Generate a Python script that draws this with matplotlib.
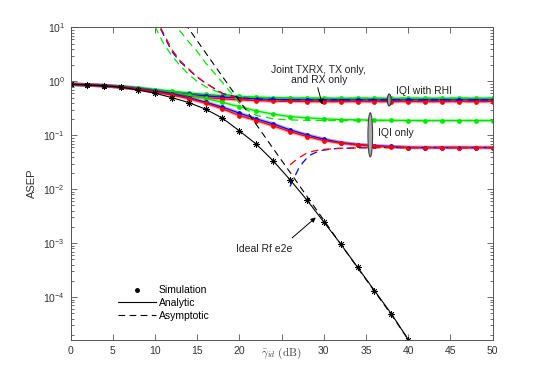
import matplotlib
matplotlib.use('Agg')
import matplotlib.pyplot as plt
from matplotlib.patches import Ellipse
from matplotlib.lines import Line2D

plt.rcParams['font.family'] = ['Liberation Sans', 'DejaVu Sans']
plt.rcParams['mathtext.fontset'] = 'cm'

# SNR grid (dB)
snr = list(range(0, 51, 2))
snr_ideal = list(range(0, 41, 2))

# Ideal RF end-to-end
ideal = [0.887, 0.861, 0.826, 0.781, 0.696, 0.604, 0.501, 0.405, 0.306, 0.208, 0.121,
         0.0687, 0.0337, 0.0150, 0.00631, 0.00247, 9.66e-4, 3.56e-4, 1.32e-4, 4.89e-5, 1.63e-5]
snr_ideal_asym = [12, 14, 16, 18, 20, 22, 24, 26, 28, 30, 32, 34, 36, 38, 40]
ideal_asym = [26, 9.5, 3.4, 1.23, 0.44, 0.159, 0.057, 0.0206, 0.0074, 0.00267,
              9.6e-4, 3.5e-4, 1.28e-4, 4.7e-5, 1.63e-5]

# IQI with RHI (red = joint TXRX, blue = TX only, green = RX only)
rhi_red = [0.887, 0.861, 0.826, 0.781, 0.718, 0.648, 0.587, 0.539, 0.501, 0.474, 0.454, 0.441,
           0.432, 0.426] + [0.423] * 12
rhi_blue = [0.887, 0.861, 0.836, 0.791, 0.736, 0.676, 0.620, 0.574, 0.539, 0.510, 0.489, 0.474,
            0.464, 0.458] + [0.454] * 12
rhi_green = [0.887, 0.861, 0.836, 0.801, 0.758, 0.705, 0.659, 0.612, 0.574, 0.546, 0.528, 0.512,
             0.501, 0.495] + [0.489] * 12

snr_rhi_asym = [10, 11, 12, 13, 14, 15, 16, 18, 20, 22, 25, 30, 50]
rhi_red_asym = [16, 7.9, 3.9, 2.4, 1.7, 1.22, 0.93, 0.59, 0.48, 0.443, 0.428, 0.423, 0.423]
rhi_blue_asym = [15, 7.4, 3.6, 2.3, 1.65, 1.2, 0.93, 0.6, 0.5, 0.472, 0.458, 0.454, 0.454]
rhi_green_asym = [10.5, 5.1, 3.0, 1.95, 1.35, 1.0, 0.80, 0.585, 0.525, 0.503, 0.492, 0.489, 0.489]

# IQI only
iqi_red = [0.887, 0.861, 0.826, 0.781, 0.718, 0.638, 0.562, 0.480, 0.395, 0.310, 0.233, 0.188,
           0.150, 0.117, 0.095, 0.0801, 0.0717, 0.0667, 0.0631, 0.0613] + [0.0594] * 6
iqi_blue = [0.887, 0.861, 0.836, 0.791, 0.736, 0.667, 0.587, 0.501, 0.412, 0.333, 0.258, 0.202,
            0.163, 0.126, 0.102, 0.0851, 0.0736, 0.0676, 0.0640, 0.0621] + [0.0594] * 6
iqi_green = [0.887, 0.861, 0.836, 0.801, 0.758, 0.696, 0.631, 0.555, 0.484, 0.408, 0.341, 0.284,
             0.247, 0.223, 0.211, 0.202, 0.196, 0.194, 0.191, 0.190] + [0.188] * 6

snr_iqi_red_asym = [26, 27, 28, 29, 30, 32, 35, 40, 50]
iqi_red_asym = [0.0284, 0.038, 0.047, 0.052, 0.055, 0.0575, 0.0588, 0.0594, 0.0594]
snr_iqi_blue_asym = [26, 26.5, 27, 27.5, 28, 28.5, 29.5, 31.5, 35, 40, 50]
iqi_blue_asym = [0.0113, 0.0165, 0.024, 0.031, 0.038, 0.044, 0.052, 0.057, 0.0592, 0.0594, 0.0594]
snr_iqi_green_asym = [12, 13, 14, 15, 16, 17, 18, 19, 20, 21, 22, 24, 26, 28, 30, 50]
iqi_green_asym = [13.5, 8.5, 5.4, 3.6, 2.2, 1.45, 0.95, 0.62, 0.40, 0.29, 0.235, 0.202, 0.193,
                  0.19, 0.188, 0.188]

RED, BLUE, GREEN = '#ff0000', '#0000ff', '#00e600'
DASH = (6, 4)

fig = plt.figure(figsize=(5.45, 3.82), dpi=100)
ax = fig.add_axes([70.5 / 545, 42 / 382, 422.2 / 545, 312.5 / 382])

# colored curves: simulation (light band + dots) and analytic (thin line)
for vals, col in [(rhi_green, GREEN), (rhi_blue, BLUE), (rhi_red, RED),
                  (iqi_green, GREEN), (iqi_blue, BLUE), (iqi_red, RED)]:
    ax.semilogy(snr, vals, color=col, lw=2.6, alpha=0.3, solid_capstyle='butt')
    ax.semilogy(snr, vals, color=col, lw=0, marker='o', ms=2.4, mec=col, mfc=col)
    ax.semilogy(snr, vals, color=col, lw=0.9)

# asymptotes
for x, vals, col in [(snr_rhi_asym, rhi_green_asym, GREEN), (snr_rhi_asym, rhi_blue_asym, BLUE),
                     (snr_rhi_asym, rhi_red_asym, RED), (snr_iqi_green_asym, iqi_green_asym, GREEN),
                     (snr_iqi_blue_asym, iqi_blue_asym, BLUE), (snr_iqi_red_asym, iqi_red_asym, RED)]:
    ax.semilogy(x, vals, color=col, lw=0.9, dashes=DASH)

# ideal case
ax.semilogy(snr_ideal, ideal, color='k', lw=0.8, marker=(8, 2, 0), ms=4.8, mew=0.6)
ax.semilogy(snr_ideal_asym, ideal_asym, color='k', lw=0.8, dashes=DASH)

ax.set_xlim(0, 50)
ax.set_ylim(1.6e-5, 10)
ax.set_xticks(range(0, 51, 5))
ax.set_xticklabels(['0', '5', '10', '15', '20', '', '30', '35', '40', '45', '50'])
ax.tick_params(which='both', direction='in', top=True, right=True, labelsize=7.5,
               colors='#333333', width=0.5)
ax.tick_params(which='major', length=4, pad=4)
ax.tick_params(which='minor', length=2)
for s in ax.spines.values():
    s.set_color('#555555')
    s.set_linewidth(0.7)

ax.set_xlabel(r'$\bar{\gamma}_{id}\ \mathrm{(dB)}$', fontsize=8, color='#404040', va='top')
ax.xaxis.set_label_coords(0.5, -0.018)
ax.set_ylabel('ASEP', fontsize=8, color='#333333')
ax.yaxis.set_label_coords(-0.079, 0.5)

# annotations
ax.text(29.4, 1.32, 'Joint TXRX, TX only,\nand RX only', ha='center', va='center',
        fontsize=7.5, linespacing=1.1, color='#222222')
ax.annotate('', xy=(29.9, 0.333), xytext=(29.2, 0.86),
            arrowprops=dict(arrowstyle='-|>', color='k', lw=0.7, mutation_scale=7))
ax.text(38.6, 0.676, 'IQI with RHI', ha='left', va='center', fontsize=7.5, color='#222222')
ax.add_patch(Ellipse((37.75 / 50, 0.768), 0.009, 0.038, transform=ax.transAxes,
                     facecolor='#999999', edgecolor='#333333', lw=0.8, zorder=5))
ax.text(36.4, 0.11, 'IQI only', ha='left', va='center', fontsize=7.5, color='#222222')
ax.add_patch(Ellipse((35.5 / 50, 0.6565), 0.011, 0.141, transform=ax.transAxes,
                     facecolor='#aaaaaa', edgecolor='#444444', lw=0.8, zorder=5))
ax.text(19.6, 7.9e-4, 'Ideal Rf e2e', ha='left', va='center', fontsize=7.5, color='#222222')
ax.annotate('', xy=(29.3, 0.00324), xytext=(26.0, 0.00116),
            arrowprops=dict(arrowstyle='-|>', color='k', lw=0.7, mutation_scale=7))

handles = [Line2D([], [], color='k', lw=0, marker='.', ms=5),
           Line2D([], [], color='k', lw=0.8),
           Line2D([], [], color='k', lw=0.8, dashes=DASH)]
ax.legend(handles, ['Simulation', 'Analytic', 'Asymptotic'], loc='upper left',
          bbox_to_anchor=(0.113, 0.175), frameon=False, fontsize=7.5, handlelength=3.6,
          handletextpad=0.3, labelspacing=0.25, borderpad=0, borderaxespad=0)

plt.savefig('out.png', dpi=100)
